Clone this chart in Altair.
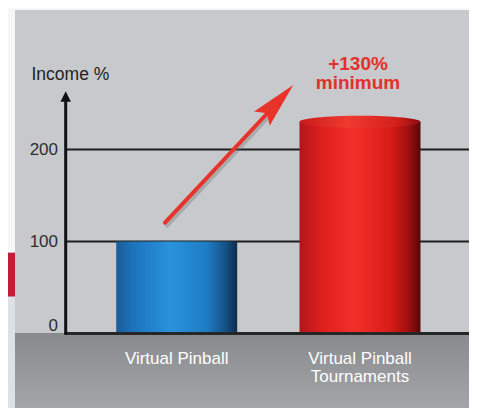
import altair as alt
import pandas as pd

# ---------------- data ----------------
categories = ["Virtual Pinball", "Virtual Pinball\nTournaments"]
income = [100, 230]
tick_values = [0, 100, 200]
tick_labels = ["0", "100", "200"]
axis_title = "Income %"
annotation_lines = ["+130%", "minimum"]

# ---------------- layout ----------------
W, H = 461, 400
ZERO_PX = 325.5          # pixel of value 0 inside plot
PX_PER_UNIT = 0.92       # pixels per income unit
Y_DOMAIN = [-(H - ZERO_PX) / PX_PER_UNIT, ZERO_PX / PX_PER_UNIT]
C0, STEP = 168.7, 183.3  # first category centre, spacing (px)
X_DOMAIN = [-C0 / STEP, (W - C0) / STEP]
HALF = 0.33

FONT = "Liberation Sans"
yscale = alt.Scale(domain=Y_DOMAIN, nice=False, zero=False)
xscale = alt.Scale(domain=X_DOMAIN, nice=False, zero=False)

bars = pd.DataFrame({"cat": categories, "value": income, "idx": list(range(len(categories)))})
ticks = pd.DataFrame({"value": tick_values, "label": tick_labels})
one = pd.DataFrame({"k": [0]})


def grad(stops, vertical=False):
    return alt.Gradient(
        gradient="linear",
        stops=[alt.GradientStop(color=c, offset=o) for o, c in stops],
        x1=0, x2=0 if vertical else 1, y1=0, y2=1 if vertical else 0,
    )


blue = grad([(0, "#1a5c99"), (0.15, "#1d74bd"), (0.45, "#2a92dc"), (0.75, "#1e7cc4"),
             (0.9, "#165288"), (1, "#0d2c4d")])
red = grad([(0, "#b3161a"), (0.2, "#e0201d"), (0.45, "#f2302a"), (0.75, "#d81c18"),
            (0.9, "#a00f10"), (1, "#560508")])
red_top = grad([(0, "#c81a18"), (0.4, "#f03a30"), (0.8, "#d4201b"), (1, "#8a0c0c")])
floor = grad([(0, "#898a8d"), (1, "#a4a5a8")], vertical=True)

base = alt.Chart(bars).transform_calculate(
    x0=f"datum.idx - {HALF}", x1=f"datum.idx + {HALF}", zero="0"
)

layers = []

# left decorative strip
layers.append(alt.Chart(one).mark_rect(fill="#f7f7f7").encode(
    x=alt.value(0), x2=alt.value(7), y=alt.value(0), y2=alt.value(244.7)))
layers.append(alt.Chart(one).mark_rect(fill="#c21c36").encode(
    x=alt.value(0), x2=alt.value(7), y=alt.value(244.7), y2=alt.value(288.7)))
layers.append(alt.Chart(one).mark_rect(fill="#dde1e4").encode(
    x=alt.value(0), x2=alt.value(7), y=alt.value(288.7), y2=alt.value(H)))
layers.append(alt.Chart(one).mark_rect(fill="#f7f7f7").encode(
    x=alt.value(0), x2=alt.value(W), y=alt.value(0), y2=alt.value(2)))
# floor
layers.append(alt.Chart(one).mark_rect(fill=floor).encode(
    x=alt.value(7), x2=alt.value(W), y=alt.value(ZERO_PX - 0.5), y2=alt.value(H)))

# grid lines at 100, 200
layers.append(alt.Chart(ticks).transform_filter("datum.value > 0").mark_rule(
    color="#1e1e1e", strokeWidth=2).encode(
    y=alt.Y("value:Q", scale=yscale, axis=None), x=alt.value(57.7), x2=alt.value(W)))

# bars (cylinders)
layers.append(base.transform_filter("datum.idx == 0").mark_rect(fill=blue).encode(
    x=alt.X("x0:Q", scale=xscale, axis=None), x2="x1:Q",
    y=alt.Y("value:Q", scale=yscale, axis=None), y2="zero:Q"))
layers.append(base.transform_filter("datum.idx == 1").mark_rect(fill=red).encode(
    x=alt.X("x0:Q", scale=xscale, axis=None), x2="x1:Q",
    y=alt.Y("value:Q", scale=yscale, axis=None), y2="zero:Q"))
layers.append(base.transform_filter("datum.idx == 1").mark_point(
    shape="M-1,0 A1,0.1,0,1,1,1,0 A1,0.1,0,1,1,-1,0 Z", filled=True, fill=red_top,
    size=121 * 121, opacity=1, strokeWidth=0).encode(
    x=alt.X("idx:Q", scale=xscale, axis=None),
    y=alt.Y("value:Q", scale=yscale, axis=None)))

# baseline
layers.append(alt.Chart(ticks).transform_filter("datum.value == 0").mark_rule(
    color="#262626", strokeWidth=3).encode(
    y=alt.Y("value:Q", scale=yscale, axis=None), x=alt.value(56.5), x2=alt.value(W)))

# y axis line + arrow head
layers.append(alt.Chart(one).mark_rule(color="#111111", strokeWidth=3).encode(
    x=alt.value(57.7), y=alt.value(ZERO_PX + 1), y2=alt.value(90)))
layers.append(alt.Chart(one).mark_point(
    shape="M0,-1 L1,1 L-1,1 Z", filled=True, fill="#111111", size=110,
    opacity=1, strokeWidth=0).encode(x=alt.value(57.7), y=alt.value(88.5)))

# tick labels
tick_style = dict(align="right", baseline="middle", font=FONT, fontSize=17, color="#2e2e2e")
layers.append(alt.Chart(ticks).transform_filter("datum.value > 0").mark_text(**tick_style).encode(
    y=alt.Y("value:Q", scale=yscale, axis=None), x=alt.value(50), text="label:N"))
layers.append(alt.Chart(ticks).transform_filter("datum.value == 0").mark_text(dy=-8, **tick_style).encode(
    y=alt.Y("value:Q", scale=yscale, axis=None), x=alt.value(50), text="label:N"))

# axis title
layers.append(alt.Chart(pd.DataFrame({"t": [axis_title]})).mark_text(
    align="left", baseline="middle", font=FONT, fontSize=17.5, color="#222222").encode(
    x=alt.value(23.5), y=alt.value(66.5), text="t:N"))

# category labels
layers.append(alt.Chart(bars).mark_text(
    align="center", baseline="top", font=FONT, fontSize=17, color="#ffffff",
    lineBreak="\n", lineHeight=18).encode(
    x=alt.X("idx:Q", scale=xscale, axis=None), y=alt.value(342.5), text="cat:N"))

# arrow (shadow + shaft + head)
layers.append(alt.Chart(one).mark_rule(color="#6f6f6f", strokeWidth=5, opacity=0.35,
                                       strokeCap="round").encode(
    x=alt.value(159), y=alt.value(217), x2=alt.value(270), y2=alt.value(98)))
layers.append(alt.Chart(one).mark_rule(color="#e8332a", strokeWidth=4, strokeCap="round").encode(
    x=alt.value(157), y=alt.value(214.7), x2=alt.value(268), y2=alt.value(96)))
layers.append(alt.Chart(one).mark_point(
    shape="M0,-1 L0.46,1 L0,0.68 L-0.46,1 Z", filled=True, fill="#e8332a", size=2116,
    angle=43, opacity=1, strokeWidth=0).encode(x=alt.value(269.6), y=alt.value(93.8)))

# annotation
layers.append(alt.Chart(pd.DataFrame({"t": ["\n".join(annotation_lines)]})).mark_text(
    align="center", baseline="alphabetic", font=FONT, fontSize=19, fontWeight="bold",
    color="#e3302a", lineBreak="\n", lineHeight=19).encode(
    x=alt.value(350), y=alt.value(61.5), text="t:N"))

chart = alt.layer(*layers).properties(
    width=W, height=H, padding=0,
    autosize=alt.AutoSizeParams(type="none"),
    background="#c8c9cc",
).configure_view(strokeWidth=0)

chart.save("out.html", embed_options={"renderer": "svg", "actions": False})
